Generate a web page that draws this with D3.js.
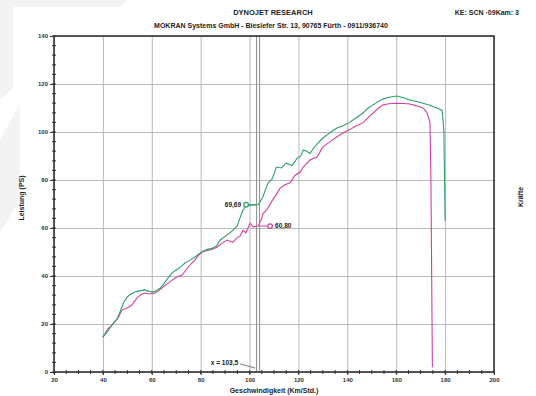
<!DOCTYPE html>
<html>
<head>
<meta charset="utf-8">
<script src="https://cdn.jsdelivr.net/npm/d3@7"></script>
<style>
  html, body { margin: 0; padding: 0; background: #fff; }
  svg { display: block; font-family: "Liberation Sans", Arial, sans-serif; }
</style>
</head>
<body>
<div id="plot-container"></div>
<script>
// Leistung (PS) über Geschwindigkeit (Km/Std.) - zwei Läufe
const greenRun = [
  [40, 14.5], [42, 17], [44, 20], [46, 22.5], [47, 25], [48.5, 29], [50, 31.3], [51.5, 32.5],
  [53, 33.3], [55, 33.8], [57, 34.2], [59, 33.6], [60.5, 33.3], [62, 34], [63.5, 35], [65, 36.8],
  [66.5, 39], [68.3, 41.3], [70, 42.5], [72, 44], [73.6, 45.4], [75.5, 46.5], [77.7, 47.9], [79, 49],
  [80.6, 50.2], [82.5, 51], [84.5, 51.5], [86.5, 52.5], [88, 55], [90, 56.5], [92, 58], [93.2, 59],
  [95, 61], [96, 64], [97.3, 67.5], [98.5, 69], [100, 69.5], [102, 69.6], [103.5, 69.7], [105.5, 73],
  [106.5, 76], [107.6, 78.8], [109, 80], [110, 82.5], [111, 85.4], [113, 85], [115, 87], [117.4, 86],
  [119.4, 89], [121, 90], [122, 92.5], [123.5, 92], [124.7, 91], [126, 93], [127.6, 95], [130, 97.5],
  [132, 99], [134, 100.5], [135.8, 101.7], [138, 102.5], [141, 104], [143, 105.5], [146.4, 107.9],
  [148.5, 110], [150.5, 111.3], [152.5, 112.6], [154.6, 113.7], [157, 114.5], [160.3, 115], [163, 114.3],
  [165.6, 113.3], [168, 112.8], [171, 112], [174, 111], [176.7, 110], [178.8, 109], [179.5, 100], [180, 63]
];
const pinkRun = [
  [40, 14.5], [42, 18], [43, 18.8], [45, 21], [46.2, 22.5], [47.8, 25.8], [49.9, 26.7], [51.9, 27.9],
  [53, 29.5], [54.4, 31.3], [56, 32.5], [57.2, 32.9], [59, 32.5], [61.3, 32.9], [63, 34], [64.2, 35],
  [66, 36.5], [68.3, 38.3], [70, 39.5], [72.4, 40.4], [74, 42.5], [76, 45], [77.7, 46.7], [79, 48.5],
  [80.6, 50], [82.5, 50.5], [84.5, 51], [86.7, 52], [88.5, 53.5], [90.8, 55], [92, 54.5], [93.2, 54],
  [94.9, 56], [96, 56.5], [97.3, 59], [98.5, 58], [100.2, 62], [101.5, 60.5], [103.5, 60.8], [105, 64],
  [105.5, 66], [107, 67.5], [109, 71], [111, 74], [112.5, 76.6], [114.5, 78], [116.6, 78.8], [118.6, 82],
  [120.7, 83.3], [122, 85.5], [123.5, 87], [124.7, 88.3], [127.6, 89.6], [130, 93.8], [133, 96],
  [135.8, 98], [138, 99.5], [141, 101], [143.5, 102.5], [146.4, 103.8], [148.5, 106], [150.5, 107.9],
  [152.5, 109.8], [154.6, 111.3], [157, 111.8], [160.3, 112], [163, 111.9], [165.6, 111.7], [168, 111],
  [171, 110], [172.6, 108], [173.8, 104], [174.2, 80], [174.5, 40], [174.8, 2]
];

const xTicks = [20, 40, 60, 80, 100, 120, 140, 160, 180, 200];
const yTicks = [0, 20, 40, 60, 80, 100, 120, 140];
const xMinor = d3.range(20, 201, 5);
const yMinor = d3.range(0, 141, 4);

const cursorX = 103.5;
const cursorLabel = 'x = 103,5';
const cursorValues = { green: '69,69', pink: '60,80' };

const titleMain = 'DYNOJET RESEARCH';
const titleSub = 'MOKRAN Systems GmbH - Bieslefer Str. 13, 90765 Fürth - 0911/936740';
const titleRight = 'KE: SCN ·09Kam: 3';
const xTitle = 'Geschwindigkeit (Km/Std.)';
const yTitle = 'Leistung (PS)';
const yTitleRight = 'Kräfte';

const canvasWidth = 536;
const canvasHeight = 396;
const plotLeft = 54, plotRight = 494, plotTop = 36, plotBottom = 372;

const greenColor = '#2f9e68';
const pinkColor = '#d040a0';

const svg = d3.select('#plot-container')
  .append('svg')
  .attr('width', canvasWidth)
  .attr('height', canvasHeight);

// blasse Hintergrundform oben links
svg.append('path')
  .attr('d', 'M0,0 L128,0 L121,7 L13,7 L13,88 L0,100 Z')
  .attr('fill', '#f3f3f3');
svg.append('path')
  .attr('d', 'M0,140 L20,104 L20,200 L0,232 Z')
  .attr('fill', '#f3f3f3');

const xScale = d3.scaleLinear().domain([20, 200]).range([plotLeft, plotRight]);
const yScale = d3.scaleLinear().domain([0, 140]).range([plotBottom, plotTop]);

// Gitter
svg.append('g')
  .attr('transform', `translate(0, ${plotBottom})`)
  .call(d3.axisBottom(xScale).tickValues(xTicks).tickSize(-(plotBottom - plotTop)).tickFormat(''))
  .call(g => g.select('.domain').remove())
  .selectAll('line').attr('stroke', '#b8b8b8');
svg.append('g')
  .attr('transform', `translate(${plotLeft}, 0)`)
  .call(d3.axisLeft(yScale).tickValues(yTicks).tickSize(-(plotRight - plotLeft)).tickFormat(''))
  .call(g => g.select('.domain').remove())
  .selectAll('line').attr('stroke', '#b8b8b8');

// Cursor (Doppellinie)
const cx = xScale(cursorX);
[-1.5, 1.5].forEach(off => {
  svg.append('line')
    .attr('x1', cx + off).attr('x2', cx + off)
    .attr('y1', plotTop).attr('y2', plotBottom)
    .attr('stroke', '#8a8a8a').attr('stroke-width', 1);
});

// Achsen mit Beschriftung
const xAxis = svg.append('g')
  .attr('transform', `translate(0, ${plotBottom})`)
  .call(d3.axisBottom(xScale).tickValues(xTicks).tickSize(3).tickPadding(3));
const yAxis = svg.append('g')
  .attr('transform', `translate(${plotLeft}, 0)`)
  .call(d3.axisLeft(yScale).tickValues(yTicks).tickSize(4).tickPadding(2));
[xAxis, yAxis].forEach(g => {
  g.select('.domain').remove();
  g.selectAll('line').attr('stroke', '#333');
  g.selectAll('text').attr('font-size', 6).attr('font-weight', 'bold').attr('fill', '#333')
    .attr('font-family', '"Liberation Sans", Arial, sans-serif');
});

// kleine Teilstriche
svg.append('g').selectAll('line').data(xMinor).enter().append('line')
  .attr('x1', d => xScale(d)).attr('x2', d => xScale(d))
  .attr('y1', plotBottom - 2).attr('y2', plotBottom + 2)
  .attr('stroke', '#333');
svg.append('g').selectAll('line').data(yMinor).enter().append('line')
  .attr('x1', plotLeft - 2).attr('x2', plotLeft + 2)
  .attr('y1', d => yScale(d)).attr('y2', d => yScale(d))
  .attr('stroke', '#333');

// Rahmen
svg.append('rect')
  .attr('x', plotLeft).attr('y', plotTop)
  .attr('width', plotRight - plotLeft).attr('height', plotBottom - plotTop)
  .attr('fill', 'none').attr('stroke', '#333').attr('stroke-width', 1.6);

// Kurven
const line = d3.line()
  .x(d => xScale(d[0]))
  .y(d => yScale(d[1]));

svg.append('path')
  .attr('d', line(pinkRun))
  .attr('fill', 'none')
  .attr('stroke', pinkColor)
  .attr('stroke-width', 1.1);
svg.append('path')
  .attr('d', line(greenRun))
  .attr('fill', 'none')
  .attr('stroke', greenColor)
  .attr('stroke-width', 1.1);

// Cursor-Marker
const gy = yScale(greenRun.find(d => d[0] === cursorX)[1]);
const py = yScale(pinkRun.find(d => d[0] === cursorX)[1]);

svg.append('line').attr('x1', cx - 12).attr('x2', cx - 2).attr('y1', gy).attr('y2', gy)
  .attr('stroke', greenColor).attr('stroke-width', 1);
svg.append('circle').attr('cx', cx - 12).attr('cy', gy).attr('r', 2.3)
  .attr('fill', '#fff').attr('stroke', greenColor).attr('stroke-width', 1.2);
svg.append('text').attr('x', cx - 17).attr('y', gy + 2.3).attr('text-anchor', 'end')
  .attr('font-size', 6.5).attr('font-weight', 'bold').attr('fill', '#222').text(cursorValues.green);

svg.append('line').attr('x1', cx + 2).attr('x2', cx + 12).attr('y1', py).attr('y2', py)
  .attr('stroke', pinkColor).attr('stroke-width', 1);
svg.append('circle').attr('cx', cx + 12).attr('cy', py).attr('r', 2.3)
  .attr('fill', '#fff').attr('stroke', pinkColor).attr('stroke-width', 1.2);
svg.append('text').attr('x', cx + 17).attr('y', py + 2.3).attr('text-anchor', 'start')
  .attr('font-size', 6.5).attr('font-weight', 'bold').attr('fill', '#222').text(cursorValues.pink);

// x = 103,5
svg.append('text').attr('x', cx - 20).attr('y', plotBottom - 7).attr('text-anchor', 'end')
  .attr('font-size', 6.5).attr('font-weight', 'bold').attr('fill', '#222').text(cursorLabel);
svg.append('line').attr('x1', cx - 18).attr('x2', cx - 3)
  .attr('y1', plotBottom - 8).attr('y2', plotBottom - 4)
  .attr('stroke', '#555').attr('stroke-width', 0.8);

// Titel
svg.append('text').attr('x', 273).attr('y', 15).attr('text-anchor', 'middle')
  .attr('font-size', 7.5).attr('font-weight', 'bold').attr('fill', '#222').text(titleMain);
svg.append('text').attr('x', 271).attr('y', 28).attr('text-anchor', 'middle')
  .attr('font-size', 7).attr('font-weight', 'bold').attr('fill', '#222').text(titleSub);
svg.append('text').attr('x', 519).attr('y', 15).attr('text-anchor', 'end')
  .attr('font-size', 7).attr('font-weight', 'bold').attr('fill', '#222').text(titleRight);

svg.append('text').attr('x', 274).attr('y', 393).attr('text-anchor', 'middle')
  .attr('font-size', 7).attr('font-weight', 'bold').attr('fill', '#222').text(xTitle);
svg.append('text').attr('transform', 'translate(24, 198) rotate(-90)').attr('text-anchor', 'middle')
  .attr('font-size', 7).attr('font-weight', 'bold').attr('fill', '#222').text(yTitle);
svg.append('text').attr('transform', 'translate(523, 197) rotate(-90)').attr('text-anchor', 'middle')
  .attr('font-size', 7).attr('font-weight', 'bold').attr('fill', '#222').text(yTitleRight);
</script>
</body>
</html>
